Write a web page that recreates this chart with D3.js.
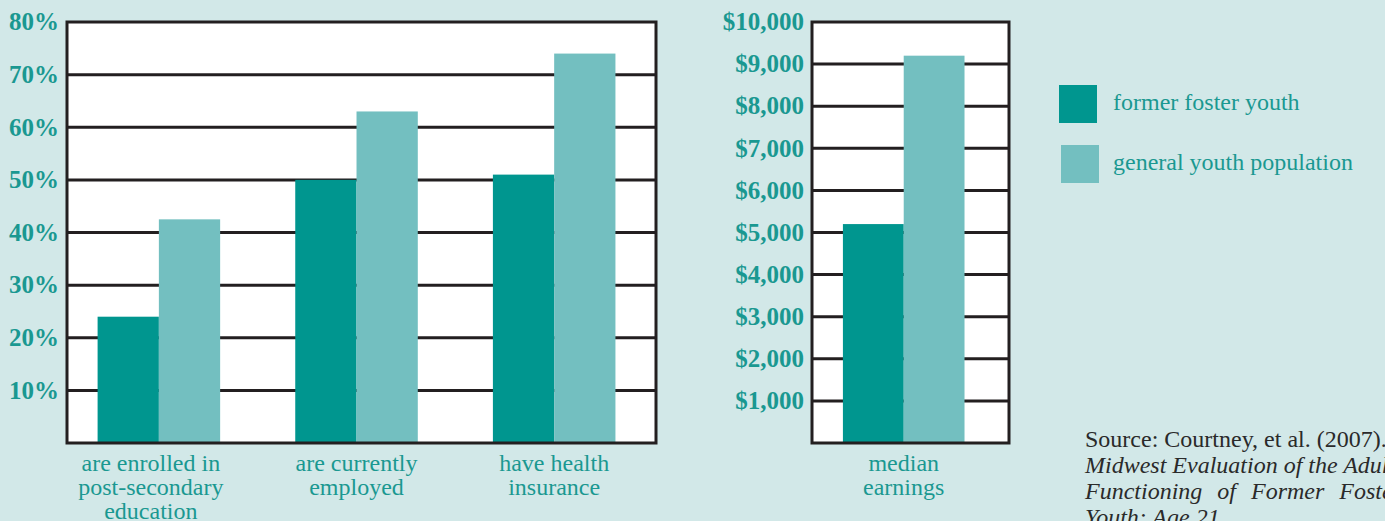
<!DOCTYPE html>
<html>
<head>
<meta charset="utf-8">
<script src="https://cdn.jsdelivr.net/npm/d3@7"></script>
<style>
  body { margin: 0; background: #d2e8e8; }
  svg { display: block; }
  text { font-family: "Liberation Serif", "DejaVu Serif", serif; }
</style>
</head>
<body>
<svg id="chart"></svg>
<script>
// data
const series = ["former foster youth", "general youth population"];
const categories = [
  ["are enrolled in", "post-secondary", "education"],
  ["are currently", "employed"],
  ["have health", "insurance"]
];
const fosterPct = [24, 50, 51];
const generalPct = [42.5, 63, 74];
const pctTicks = [10, 20, 30, 40, 50, 60, 70, 80];

const earningsCategory = [["median", "earnings"]];
const fosterEarn = [5200];
const generalEarn = [9200];
const earnTicks = [1000, 2000, 3000, 4000, 5000, 6000, 7000, 8000, 9000, 10000];

const sourceLines = [
  { t: "Source: Courtney, et al. (2007).", it: false },
  { t: "Midwest Evaluation of the Adult", it: true },
  { t: "Functioning of Former Foster", it: true },
  { t: "Youth: Age 21.", it: true }
];

const width = 1385, height = 521;
const colors = ["#00968f", "#73bfc0"];
const teal = "#1a9891";
const lineCol = "#231f20";

const svg = d3.select("#chart").attr("width", width).attr("height", height);
svg.append("rect").attr("width", width).attr("height", height).attr("fill", "#d2e8e8");

function barPanel(opts) {
  const { x0, x1, top, bottom, max, ticks, fmt, cats, vals, padIn, padOut, align } = opts;
  const g = svg.append("g");
  const y = d3.scaleLinear().domain([0, max]).range([bottom, top]);
  const xb = d3.scaleBand().domain(cats.map((d, i) => i))
    .range([x0, x1]).paddingInner(padIn).paddingOuter(padOut).align(align);
  const xs = d3.scaleBand().domain([0, 1]).range([0, xb.bandwidth()]);

  g.append("rect").attr("x", x0).attr("y", top)
    .attr("width", x1 - x0).attr("height", bottom - top).attr("fill", "#fff");

  // grid lines
  g.selectAll("line.grid").data(ticks.filter(t => t < max)).join("line")
    .attr("class", "grid")
    .attr("x1", x0).attr("x2", x1)
    .attr("y1", d => y(d)).attr("y2", d => y(d))
    .attr("stroke", lineCol).attr("stroke-width", 3);

  // bars
  cats.forEach((c, i) => {
    vals.forEach((s, k) => {
      g.append("rect")
        .attr("x", xb(i) + xs(k))
        .attr("y", y(s[i]))
        .attr("width", xs.bandwidth())
        .attr("height", y(0) - y(s[i]))
        .attr("fill", colors[k]);
    });
  });

  // frame
  g.append("rect").attr("x", x0).attr("y", top)
    .attr("width", x1 - x0).attr("height", bottom - top)
    .attr("fill", "none").attr("stroke", lineCol).attr("stroke-width", 3);

  // tick labels
  g.selectAll("text.tick").data(ticks).join("text")
    .attr("x", x0 - 8).attr("y", d => y(d)).attr("dy", "0.33em")
    .attr("text-anchor", "end")
    .attr("font-size", 25).attr("font-weight", "bold")
    .attr("fill", teal)
    .text(fmt);

  // category labels
  cats.forEach((lines, i) => {
    const cx = xb(i) + xb.bandwidth() / 2 - (lines.length > 2 ? 8 : 0);
    const t = g.append("text")
      .attr("x", cx)
      .attr("y", bottom + 28)
      .attr("text-anchor", "middle")
      .attr("font-size", 24).attr("fill", teal);
    lines.forEach((l, j) => {
      t.append("tspan").attr("x", cx)
        .attr("dy", j ? 24 : 0).text(l);
    });
  });
}

barPanel({
  x0: 67, x1: 656, top: 22, bottom: 443, max: 80,
  ticks: pctTicks, fmt: d => d + "%",
  cats: categories, vals: [fosterPct, generalPct],
  padIn: 0.38, padOut: 0.18, align: 0.43
});

barPanel({
  x0: 812, x1: 1009, top: 22, bottom: 443, max: 10000,
  ticks: earnTicks, fmt: d => "$" + d3.format(",")(d),
  cats: earningsCategory, vals: [fosterEarn, generalEarn],
  padIn: 0, padOut: 0.31, align: 0.41
});

// legend
const legend = svg.append("g").attr("transform", "translate(1059,85)");
series.forEach((s, k) => {
  const row = legend.append("g").attr("transform", `translate(${k * 2},${k * 60})`);
  row.append("rect").attr("width", 38).attr("height", 38).attr("fill", colors[k]);
  row.append("text").attr("x", 54 - k * 2).attr("y", 25)
    .attr("font-size", 24).attr("fill", teal).text(s);
});

// source note
const src = svg.append("text").attr("x", 1085).attr("y", 447)
  .attr("font-size", 24).attr("fill", "#2a2a2a");
sourceLines.forEach((l, j) => {
  src.append("tspan").attr("x", 1085).attr("dy", j ? 26 : 0)
    .attr("font-style", l.it ? "italic" : "normal")
    .attr("word-spacing", j === 2 ? 9 : 0)
    .text(l.t);
});
</script>
</body>
</html>
